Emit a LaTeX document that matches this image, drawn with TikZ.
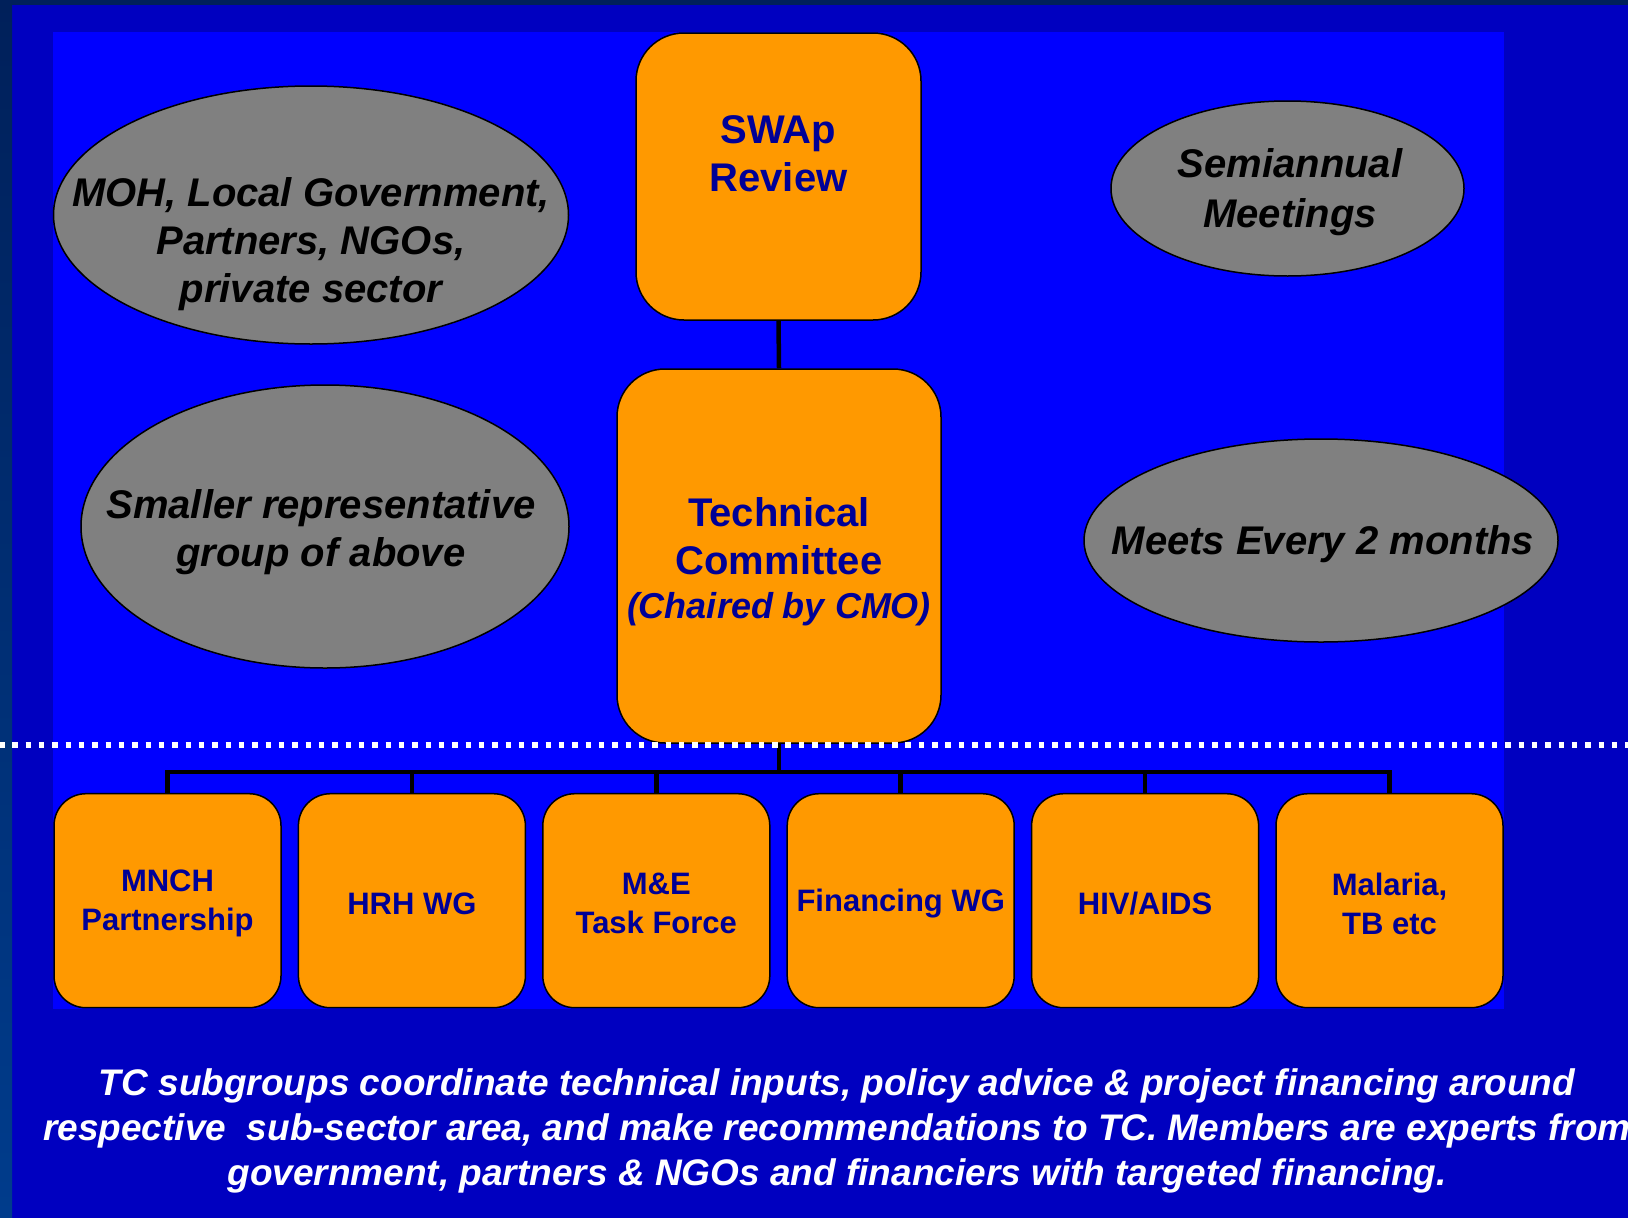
\documentclass[tikz,border=0pt]{standalone}
\usepackage{fontspec}
\setmainfont{Liberation Sans}
\usepackage{xcolor}
\usepackage{tikz}
\usetikzlibrary{shapes.geometric, positioning}

\definecolor{navytop}{RGB}{0,32,90}
\definecolor{navybot}{RGB}{0,60,140}
\definecolor{slideblue}{RGB}{0,0,192}
\definecolor{panelblue}{RGB}{0,0,255}
\definecolor{boxorange}{RGB}{255,153,0}
\definecolor{boxink}{RGB}{0,0,150}
\definecolor{ovalgray}{RGB}{128,128,128}

\begin{document}
\begin{tikzpicture}[x=1pt, y=-1pt]
		\tikzstyle{oval} = [draw=black, line width=1.5pt, fill=ovalgray, ellipse, inner sep=0pt]
		\tikzstyle{ovaltext} = [align=center, text=black, font=\fontsize{40}{48}\selectfont\bfseries\itshape]
		\tikzstyle{bigbox} = [draw=black, line width=1.5pt, fill=boxorange, rounded corners=48pt, inner sep=2pt]
		\tikzstyle{subbox} = [bigbox, rounded corners=32pt, minimum width=227pt, minimum height=214pt]
		\tikzstyle{boxtext} = [align=center, text=boxink, font=\fontsize{40}{48}\selectfont\bfseries]
		\tikzstyle{subtext} = [boxtext, font=\fontsize{31}{39}\selectfont\bfseries]
		\tikzstyle{link} = [line width=4.5pt, draw=black]
		\tikzstyle{dots} = [draw=white, line width=5.5pt, dash pattern=on 5.5pt off 7.83pt]
		
		\useasboundingbox (0,0) rectangle (1628,1218);
		
		% slide background
		\fill[slideblue] (0,0) rectangle (1628,1218);
		\shade[top color=navytop, bottom color=navybot] (0,0) rectangle (12,1218);
		\fill[navytop] (0,0) rectangle (1628,5);
		\fill[panelblue] (53,32) rectangle (1504,1009);
		
		% ovals
		\node[oval, minimum width=515pt, minimum height=258pt] at (311, 215)	(members)	{};
		\node[oval, minimum width=488pt, minimum height=283pt] at (325, 526.5)	(subset)	{};
		\node[oval, minimum width=353pt, minimum height=175pt] at (1287.5, 188.5)	(semiannual)	{};
		\node[oval, minimum width=474pt, minimum height=203pt] at (1321, 540.5)	(bimonthly)	{};
		
		\node[ovaltext] at (311, 244.5)	(memberstext)	{MOH, Local Government,\\Partners, NGOs,\\private sector};
		\node[ovaltext] at (321, 532.5)	(subsettext)	{Smaller representative\\group of above};
		\node[ovaltext, font=\fontsize{40}{50}\selectfont\bfseries\itshape] at (1290, 192)	(semiannualtext)	{Semiannual\\Meetings};
		\node[ovaltext] at (1323, 544)	(bimonthlytext)	{Meets Every 2 months};
		
		% tree
		\coordinate (bus) at (779, 772);
		\node[bigbox, minimum width=285pt, minimum height=287pt] at (778.5, 176.5)	(swap)	{};
		\node[bigbox, minimum width=324pt, minimum height=374pt] at (779, 556)	(tc)	{};
		\node[boxtext] at (778.5, 154)	(swaptext)	{SWAp\\Review};
		\node[boxtext] at (779, 562)	(tctext)
			{Technical\\Committee\\[-4pt]{\fontsize{36}{44}\selectfont\itshape (Chaired by CMO)}};
		
		\foreach \lbl [count=\i] in {{MNCH\\Partnership}, {HRH WG}, {M\&E\\Task Force}, {Financing WG}, {HIV/AIDS}, {Malaria,\\TB etc}}
		{
			\node[subbox] at (167.5+244.4*\i-244.4, 900.7)	(sub\i)	{};
			\node[subtext] at (167.5+244.4*\i-244.4, 903.5)	(subtext\i)	{\lbl};
		}
		
		\draw[link] (swap.south) -- (tc.north);
		\draw[link] (tc.south) -- (bus);
		\draw[link] (sub1.north) |- (bus) -| (sub6.north);
		\foreach \i in {2,...,5}
			\draw[link] (sub\i.north) -- (sub\i.north |- bus);
		
		% separator
		\coordinate (sepleft) at (-1, 745);
		\coordinate (sepright) at (1628, 745);
		\draw[dots] (sepleft) -- (sepright);
		
		% footnote
		\node[align=center, text=white, font=\fontsize{37}{45}\selectfont\bfseries\itshape] at (837, 1131)	(note)
			{TC subgroups coordinate technical inputs, policy advice \& project financing around\\
			 respective~ sub-sector area, and make recommendations to TC. Members are experts from\\
			 government, partners \& NGOs and financiers with targeted financing.};
	\end{tikzpicture}
\end{document}
